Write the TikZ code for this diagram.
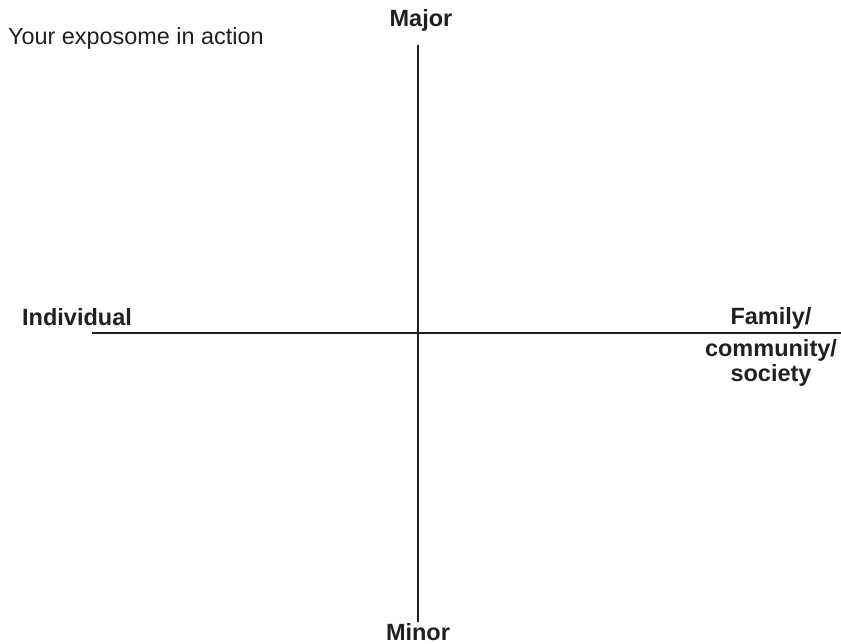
\documentclass[tikz,border=0pt]{standalone}
\usepackage{fontspec}
\setmainfont{Liberation Sans}
\definecolor{ink}{HTML}{231F20}
\begin{document}
\begin{tikzpicture}[x=1pt,y=-1pt,
  axis/.style={draw=ink,line width=2pt},
  label/.style={text=ink,inner sep=0pt,font=\bfseries\fontsize{23.5}{25}\selectfont},
  heading/.style={text=ink,inner sep=0pt,font=\fontsize{23.4}{27}\selectfont}]
  \useasboundingbox (0,0) rectangle (841,644);
  % axis end points
  \coordinate (top) at (418,45);
  \coordinate (bottom) at (418,622);
  \coordinate (left) at (92,333);
  \coordinate (right) at (841,333);
  \draw[axis] (top) -- (bottom);
  \draw[axis] (left) -- (right);
  % labels
  \node[heading,anchor=base west] (title) at (8,45) {Your exposome in action};
  \node[label,anchor=base] (major) at (421,27) {Major};
  \node[label,anchor=base] (minor) at (418,640.5) {Minor};
  \node[label,anchor=base west] (individual) at (22,326) {Individual};
  % multi-line node: base anchor sits on the last line
  \node[label,anchor=base,align=center] (family) at (771,381.5)
    {Family/\\[6.7pt]community/\\society};
\end{tikzpicture}
\end{document}
